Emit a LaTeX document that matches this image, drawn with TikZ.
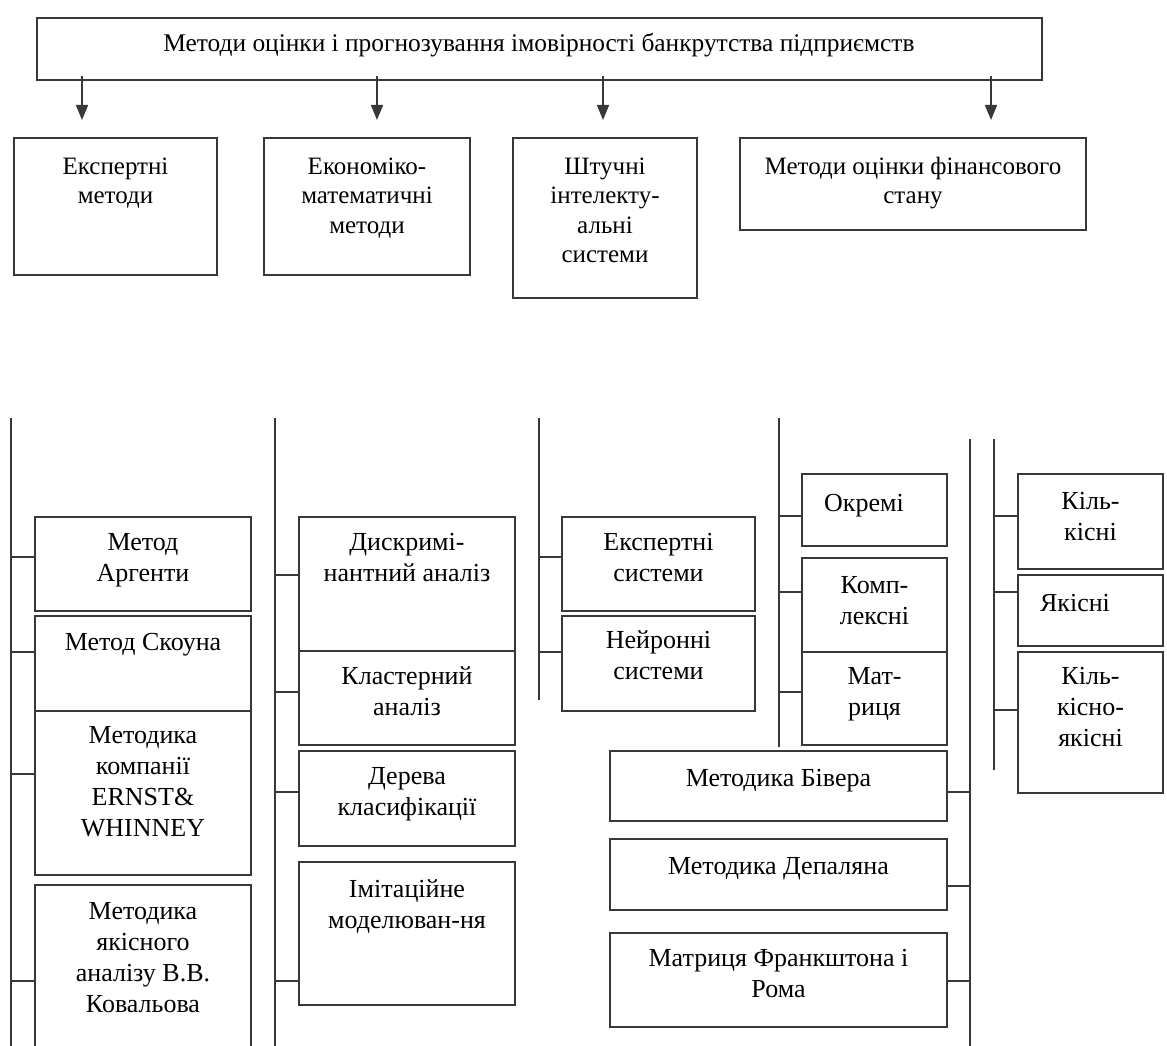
\documentclass[tikz,border=0pt]{standalone}
\usepackage{fontspec}
\setmainfont{Liberation Serif}
\usetikzlibrary{arrows.meta,fit}
\newcommand\mybox[5]{\coordinate (#1a) at (#2,#3); \coordinate (#1b) at (#4,#5); \node[boxst, fit=(#1a)(#1b)] (#1) {};}
\newcommand\mylab[5]{\node[#5] (#1) at (#2,#3-25) {\rule{0pt}{25pt}#4};}
\begin{document}
\begin{tikzpicture}[x=1pt,y=-1pt,
 ln/.style={draw=black!78, line width=1.7pt},
 boxst/.style={ln, rectangle, inner sep=0pt},
 lbl/.style={align=center, inner sep=0pt, anchor=north, font=\fontsize{26}{31}\selectfont},
 lblt/.style={lbl, font=\fontsize{25}{29.5}\selectfont},
 arr/.style={ln, -{Triangle[width=12pt,length=15pt]}}]
\useasboundingbox (0,0) rectangle (1167,1046);
\begin{scope}
\clip (0,0) rectangle (1167,1046);
% top
\mybox{top}{37}{18}{1042}{80}
\mylab{topt}{539}{51}{\fontsize{25.4}{30}\selectfont Методи оцінки і прогнозування імовірності банкрутства підприємств}{lblt}
\mybox{e1}{14}{138}{217}{275}
\mybox{e2}{264}{138}{470}{275}
\mybox{e3}{513}{138}{697}{298}
\mybox{e4}{740}{138}{1086}{230}
\mylab{e1t}{115.5}{174}{Експертні\\методи}{lblt}
\mylab{e2t}{367}{174}{Економіко-\\математичні\\методи}{lblt}
\mylab{e3t}{605}{174}{Штучні\\інтелекту-\\альні\\системи}{lblt}
\mylab{e4t}{913}{174}{Методи оцінки фінансового\\стану}{lblt}
\foreach \i/\x in {1/82,2/377,3/603,4/991}{
  \coordinate (ar\i) at (\x,120);
  \draw[arr] (ar\i |- top.south) ++(0,-5) -- (ar\i);
}
% vertical lines
\coordinate (LAt) at (11,418);  \coordinate (LAb) at (11,1050);
\coordinate (LBt) at (275,418); \coordinate (LBb) at (275,1050);
\coordinate (LCt) at (539,418); \coordinate (LCb) at (539,700);
\coordinate (LDt) at (779,418); \coordinate (LDb) at (779,747);
\coordinate (LEt) at (970,439); \coordinate (LEb) at (970,1050);
\coordinate (LFt) at (994,439); \coordinate (LFb) at (994,770);
\foreach \l in {LA,LB,LC,LD,LE,LF}{\draw[ln] (\l t) -- (\l b);}
% column 1
\mybox{b11}{35}{517}{251}{611}
\mybox{b12}{35}{616}{251}{711}
\mybox{b13}{35}{711}{251}{875}
\mybox{b14}{35}{885}{251}{1060}
\mylab{b11t}{143}{550}{Метод\\Аргенти}{lbl}
\mylab{b12t}{143}{650}{Метод Скоуна}{lbl}
\mylab{b13t}{143}{743}{Методика\\компанії\\ERNST\&\\WHINNEY}{lbl}
\mylab{b14t}{143}{919}{Методика\\якісного\\аналізу В.В.\\Ковальова}{lbl}
\foreach \b/\y in {b11/557,b12/652,b13/774,b14/981}{\draw[ln] (\b.west |- 0,\y) -- (LAt |- 0,\y);}
% column 2
\mybox{b21}{299}{517}{515}{651}
\mybox{b22}{299}{651}{515}{745}
\mybox{b23}{299}{751}{515}{846}
\mybox{b24}{299}{862}{515}{1005}
\mylab{b21t}{407}{550}{Дискримі-\\нантний аналіз}{lbl}
\mylab{b22t}{407}{684}{Кластерний\\аналіз}{lbl}
\mylab{b23t}{407}{784}{Дерева\\класифікації}{lbl}
\mylab{b24t}{407}{897}{Імітаційне\\моделюван-ня}{lbl}
\foreach \b/\y in {b21/575,b22/692,b23/792,b24/981}{\draw[ln] (\b.west |- 0,\y) -- (LBt |- 0,\y);}
% column 3
\mybox{b31}{562}{517}{755}{611}
\mybox{b32}{562}{616}{755}{711}
\mylab{b31t}{658.5}{550}{Експертні\\системи}{lbl}
\mylab{b32t}{658.5}{648}{Нейронні\\системи}{lbl}
\foreach \b/\y in {b31/557,b32/652}{\draw[ln] (\b.west |- 0,\y) -- (LCt |- 0,\y);}
% column 4
\mybox{b41}{802}{474}{947}{546}
\mybox{b42}{802}{558}{947}{652}
\mybox{b43}{802}{652}{947}{745}
\mylab{b41t}{864}{511}{Окремі}{lbl}
\mylab{b42t}{874.5}{593}{Комп-\\лексні}{lbl}
\mylab{b43t}{874.5}{684}{Мат-\\риця}{lbl}
\foreach \b/\y in {b41/516,b42/592,b43/692}{\draw[ln] (\b.west |- 0,\y) -- (LDt |- 0,\y);}
% column 5
\mybox{b51}{610}{751}{947}{821}
\mybox{b52}{610}{839}{947}{910}
\mybox{b53}{610}{933}{947}{1027}
\mylab{b51t}{778.5}{786}{Методика Бівера}{lbl}
\mylab{b52t}{778.5}{874}{Методика Депаляна}{lbl}
\mylab{b53t}{778.5}{966}{Матриця Франкштона і\\Рома}{lbl}
\foreach \b/\y in {b51/792,b52/886,b53/981}{\draw[ln] (\b.east |- 0,\y) -- (LEt |- 0,\y);}
% column 6
\mybox{b61}{1018}{474}{1163}{569}
\mybox{b62}{1018}{575}{1163}{646}
\mybox{b63}{1018}{652}{1163}{793}
\mylab{b61t}{1090.5}{509}{Кіль-\\кісні}{lbl}
\mylab{b62t}{1075}{611}{Якісні}{lbl}
\mylab{b63t}{1090.5}{684}{Кіль-\\кісно-\\якісні}{lbl}
\foreach \b/\y in {b61/516,b62/592,b63/710}{\draw[ln] (\b.west |- 0,\y) -- (LFt |- 0,\y);}
\end{scope}
\end{tikzpicture}
\end{document}
